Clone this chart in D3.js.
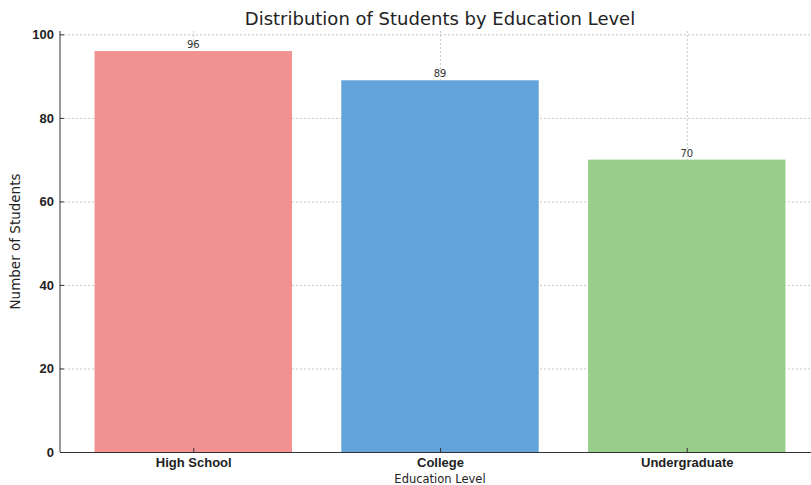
<!DOCTYPE html>
<html>
<head>
<meta charset="utf-8">
<script src="https://cdn.jsdelivr.net/npm/d3@7"></script>
<style>
  body { margin: 0; background: #fff; }
  svg { font-family: "DejaVu Sans", sans-serif; }
  .grid line { stroke: #c8c8c8; stroke-dasharray: 2,2; }
  .grid path { display: none; }
  .axis path, .axis line { stroke: #333; }
  .axis text { fill: #222; }
</style>
</head>
<body>
<svg id="chart" width="811" height="485"></svg>
<script>
const levels = ["High School", "College", "Undergraduate"];
const students = [96, 89, 70];
const colours = ["#f29191", "#64a3d9", "#98cd8c"];
const yTicks = [0, 20, 40, 60, 80, 100];

var w = 811, h = 485;
var margin = { top: 31, right: -9, bottom: 33, left: 60 };
var width = w - margin.left - margin.right,
    height = h - margin.top - margin.bottom;

var svg = d3.select("#chart");
var g = svg.append("g").attr("transform", "translate(" + margin.left + "," + margin.top + ")");

// matplotlib-like: bar width 0.8, margins of 0.05 on the data range
var x = d3.scaleLinear().domain([-0.54, levels.length - 1 + 0.54]).range([0, width]);
var y = d3.scaleLinear().domain([0, 100.8]).range([height, 0]);
var barW = x(0.8) - x(0);

g.append("g").attr("class", "grid")
    .call(d3.axisLeft(y).tickValues(yTicks).tickSize(-width).tickFormat(""));
g.append("g").attr("class", "grid")
    .call(d3.axisBottom(x).tickValues(d3.range(levels.length)).tickSize(height).tickFormat(""));

var data = levels.map(function(d, i) { return { name: d, count: students[i], i: i }; });

g.selectAll(".bar")
    .data(data)
    .enter().append("rect")
    .attr("class", "bar")
    .attr("x", function(d) { return x(d.i) - barW / 2; })
    .attr("y", function(d) { return y(d.count); })
    .attr("width", barW)
    .attr("height", function(d) { return height - y(d.count); })
    .attr("fill", function(d) { return colours[d.i]; });

g.selectAll(".label")
    .data(data)
    .enter().append("text")
    .attr("class", "label")
    .attr("x", function(d) { return x(d.i); })
    .attr("y", function(d) { return y(d.count) - 3; })
    .attr("text-anchor", "middle")
    .style("font-size", "10px")
    .style("fill", "#333")
    .text(function(d) { return d.count; });

var yAxis = g.append("g").attr("class", "axis")
    .call(d3.axisLeft(y).tickValues(yTicks).tickSizeInner(-4).tickSizeOuter(0).tickPadding(6));
yAxis.selectAll("text").style("font-size", "13px").style("font-weight", "bold");
yAxis.select(".domain").attr("d", "M0," + height + "V" + y(100.8));

var xAxis = g.append("g").attr("class", "axis")
    .attr("transform", "translate(0," + height + ")")
    .call(d3.axisBottom(x).tickValues(d3.range(levels.length))
        .tickFormat(function(i) { return levels[i]; })
        .tickSizeInner(-4).tickSizeOuter(0).tickPadding(6));
xAxis.selectAll("text").style("font-size", "13px").style("font-weight", "bold");

svg.append("text")
    .attr("x", margin.left + x(1))
    .attr("y", 25)
    .attr("text-anchor", "middle")
    .style("font-size", "18px")
    .style("fill", "#222")
    .text("Distribution of Students by Education Level");

svg.append("text")
    .attr("x", margin.left + x(1))
    .attr("y", 483)
    .attr("text-anchor", "middle")
    .style("font-size", "11.5px")
    .style("fill", "#222")
    .text("Education Level");

svg.append("text")
    .attr("transform", "translate(20," + (margin.top + height / 2) + ") rotate(-90)")
    .attr("text-anchor", "middle")
    .style("font-size", "13.5px")
    .style("fill", "#222")
    .text("Number of Students");
</script>
</body>
</html>
